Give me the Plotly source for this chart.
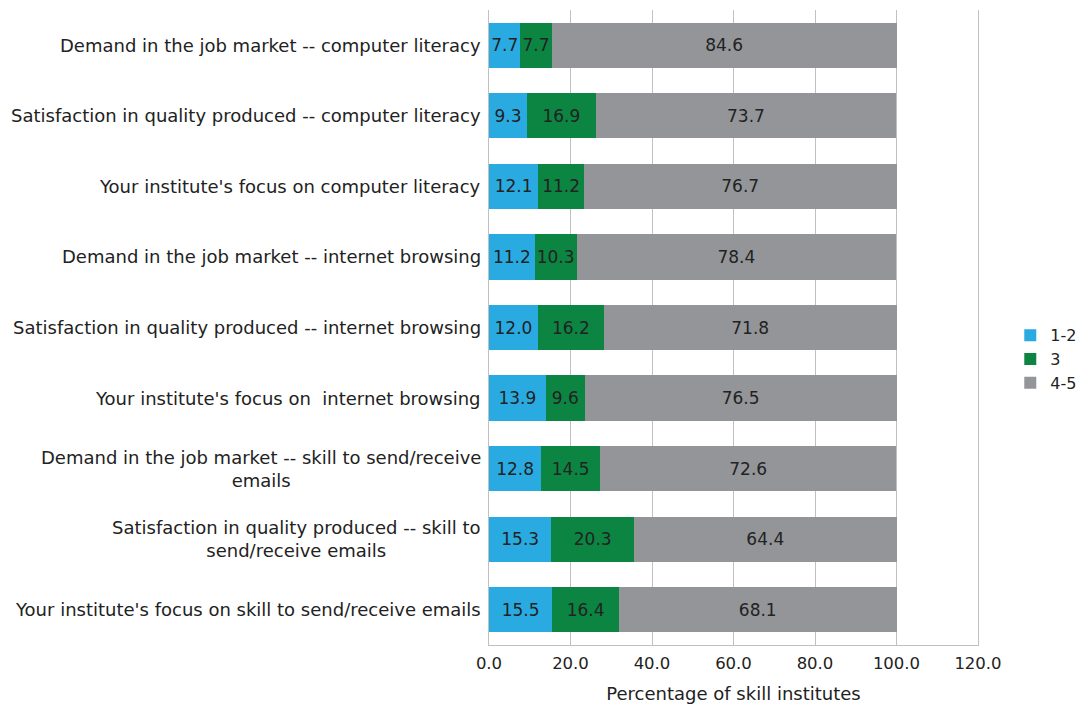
import plotly.graph_objects as go

categories = [
    "Demand in the job market -- computer literacy",
    "Satisfaction in quality produced -- computer literacy",
    "Your institute's focus on computer literacy",
    "Demand in the job market -- internet browsing",
    "Satisfaction in quality produced -- internet browsing",
    "Your institute's focus on  internet browsing",
    "Demand in the job market -- skill to send/receive<br>emails",
    "Satisfaction in quality produced -- skill to<br>send/receive emails",
    "Your institute's focus on skill to send/receive emails",
]
low_1_2 = [7.7, 9.3, 12.1, 11.2, 12.0, 13.9, 12.8, 15.3, 15.5]
mid_3 = [7.7, 16.9, 11.2, 10.3, 16.2, 9.6, 14.5, 20.3, 16.4]
high_4_5 = [84.6, 73.7, 76.7, 78.4, 71.8, 76.5, 72.6, 64.4, 68.1]
tick_vals = [0, 20, 40, 60, 80, 100, 120]

FONT = "DejaVu Sans"
TEXT = "#222222"
GRID = "#C0C0C0"
series = [
    ("1-2", low_1_2, "#29ABE2"),
    ("3", mid_3, "#0B8541"),
    ("4-5", high_4_5, "#939598"),
]

keys = list(range(len(categories)))

fig = go.Figure()
for name, vals, color in series:
    fig.add_trace(
        go.Bar(
            name=name,
            legendgroup=name,
            y=keys,
            x=vals,
            orientation="h",
            marker=dict(color=color, line=dict(width=0)),
            width=0.64,
            text=[f"{v:.1f}" for v in vals],
            textposition="inside",
            insidetextanchor="middle",
            textangle=0,
            constraintext="none",
            textfont=dict(family=FONT, size=17, color=TEXT),
        )
    )

for k, label in zip(keys, categories):
    fig.add_annotation(
        x=-0.012, xref="paper", y=k, yref="y",
        text=label, showarrow=False,
        xanchor="right", yanchor="middle", align="center",
        font=dict(family=FONT, size=18, color=TEXT),
    )

# page body adds an 8px margin; size and margins allow for it
fig.update_layout(
    barmode="stack",
    width=1081,
    height=696,
    margin=dict(l=481, r=111, t=2, b=59, autoexpand=False),
    plot_bgcolor="white",
    paper_bgcolor="white",
    font=dict(family=FONT, size=16, color=TEXT),
    legend=dict(
        x=1.066, xanchor="left", y=0.45, yanchor="middle",
        font=dict(family=FONT, size=16, color=TEXT),
        itemwidth=30, traceorder="normal", tracegroupgap=9,
    ),
    xaxis=dict(
        range=[0, 120],
        tickvals=tick_vals,
        ticktext=[f"{v:.1f}" for v in tick_vals],
        tickfont=dict(family=FONT, size=16.5, color=TEXT),
        ticklabelstandoff=3,
        showgrid=True,
        gridcolor=GRID,
        gridwidth=1,
        zeroline=False,
        showline=True,
        linecolor=GRID,
        ticks="",
        title=dict(text="Percentage of skill institutes", standoff=18,
                   font=dict(family=FONT, size=18, color=TEXT)),
    ),
    yaxis=dict(
        range=[len(categories) - 0.5, -0.5],
        showticklabels=False,
        showgrid=False,
        zeroline=False,
        showline=True,
        mirror=True,
        linecolor=GRID,
        ticks="",
    ),
)

fig.write_html("out.html")
